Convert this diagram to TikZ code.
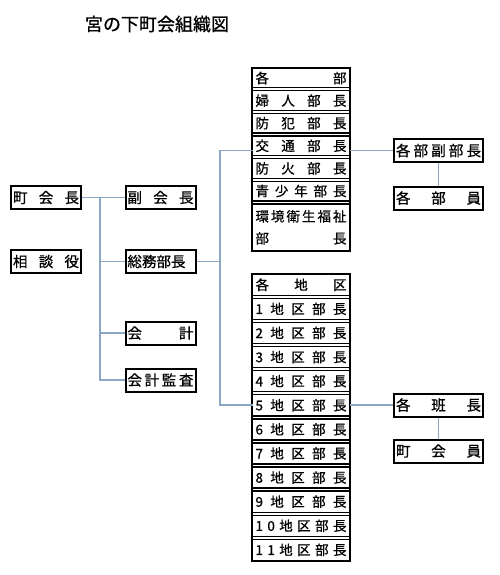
\documentclass[tikz,border=0pt]{standalone}
\usepackage{fontspec}
\setmainfont{Noto Sans CJK JP}[FakeBold=0.8]
\usepackage{xcolor}
\definecolor{lineBlue}{HTML}{8AA8C6}
\usepackage{tikz}
\usetikzlibrary{positioning, fit, calc}

\newcommand{\spreadtext}[2]{\hbox to #1{#2}}

\begin{document}
\begin{tikzpicture}[x=1pt, y=-1pt,
  box/.style={draw, line width=2pt, minimum width=70pt, minimum height=23pt,
    inner sep=0pt, font=\fontsize{14.5}{16}\selectfont},
  cell/.style={draw, line width=1.4pt, minimum width=97pt, minimum height=19.6pt,
    inner sep=0pt, outer sep=0pt, font=\fontsize{13.5}{22}\selectfont},
  frame/.style={draw, line width=1.8pt, inner sep=0.4pt},
  link/.style={draw=lineBlue, line width=1.3pt}]

\useasboundingbox (0,0) rectangle (500,575);

\node[font=\fontsize{18}{20}\selectfont] (title) at (157,24) {宮の下町会組織図};

% left side
\node[box] (chokaicho) at (46,197.5) {\spreadtext{66pt}{町\hfill 会\hfill 長}};
\node[box] (sodan) at (46,261.5) {\spreadtext{66pt}{相\hfill 談\hfill 役}};

\node[box] (fukukaicho) at (160.5,197.5) {\spreadtext{66pt}{副\hfill 会\hfill 長}};
\node[box] (somu) at (160.5,261.5) {\spreadtext{66pt}{総務部長\hfill}};
\node[box] (kaikei) at (160.5,333) {\spreadtext{66pt}{会\hfill 計}};
\node[box] (kansa) at (160.5,380) {\spreadtext{66pt}{会\hfill 計\hfill 監\hfill 査}};

% departments
\node[cell] (bu0) at (301,78) {\spreadtext{91pt}{各\hfill 部}};
\node[cell, below=3pt of bu0] (bu1) {\spreadtext{91pt}{婦\hfill 人\hfill 部\hfill 長}};
\node[cell, below=3pt of bu1] (bu2) {\spreadtext{91pt}{防\hfill 犯\hfill 部\hfill 長}};
\node[cell, below=3pt of bu2] (bu3) {\spreadtext{91pt}{交\hfill 通\hfill 部\hfill 長}};
\node[cell, below=3pt of bu3] (bu4) {\spreadtext{91pt}{防\hfill 火\hfill 部\hfill 長}};
\node[cell, below=3pt of bu4] (bu5) {\spreadtext{91pt}{青\hfill 少\hfill 年\hfill 部\hfill 長}};
\node[cell, below=3pt of bu5, minimum height=47pt, align=center] (bu6)
  {\spreadtext{91pt}{環\hfill 境\hfill 衛\hfill 生\hfill 福\hfill 祉}\\
   \spreadtext{91pt}{部\hfill 長}};
\node[frame, fit=(bu0)(bu6)] (buframe) {};

% districts
\node[cell, minimum height=21.1pt] (chiku0) at (301,284.75) {\spreadtext{91pt}{各\hfill 地\hfill 区}};
\foreach \i [remember=\i as \j (initially 0)] in {1,...,9}
  \node[cell, minimum height=21.1pt, below=3pt of chiku\j] (chiku\i)
    {\spreadtext{91pt}{\i\hfill 地\hfill 区\hfill 部\hfill 長}};
\node[cell, minimum height=21.1pt, below=3pt of chiku9] (chiku10)
  {\spreadtext{91pt}{1\hfill 0\hfill 地\hfill 区\hfill 部\hfill 長}};
\node[cell, minimum height=21.1pt, below=3pt of chiku10] (chiku11)
  {\spreadtext{91pt}{1\hfill 1\hfill 地\hfill 区\hfill 部\hfill 長}};
\node[frame, fit=(chiku0)(chiku11)] (chikuframe) {};

% right side
\node[box, minimum width=89pt] (fukubucho) at (438.5,150.5) {\spreadtext{85pt}{各\hfill 部\hfill 副\hfill 部\hfill 長}};
\node[box, minimum width=89pt] (buin) at (438.5,198) {\spreadtext{85pt}{各\hfill 部\hfill 員}};
\node[box, minimum width=89pt] (hancho) at (438.5,405) {\spreadtext{85pt}{各\hfill 班\hfill 長}};
\node[box, minimum width=89pt] (kaiin) at (438.5,451) {\spreadtext{85pt}{町\hfill 会\hfill 員}};

% connectors
\coordinate (jA) at (100,0);
\coordinate (jB) at (220,0);
\draw[link] (chokaicho.east) -- (fukukaicho.west);
\draw[link] (jA |- chokaicho) |- (kansa.west);
\draw[link] (jA |- somu) -- (somu.west);
\draw[link] (jA |- kaikei) -- (kaikei.west);
\draw[link] (somu.east) -- (jB |- somu);
\draw[link] (bu3.west |- fukubucho) -- (jB |- fukubucho) -- (jB |- hancho) -- (chiku5.west |- hancho);
\draw[link] (bu3.east |- fukubucho) -- (fukubucho.west);
\draw[link] (fukubucho.south) -- (buin.north);
\draw[link] (chiku5.east |- hancho) -- (hancho.west);
\draw[link] (hancho.south) -- (kaiin.north);
\end{tikzpicture}
\end{document}
